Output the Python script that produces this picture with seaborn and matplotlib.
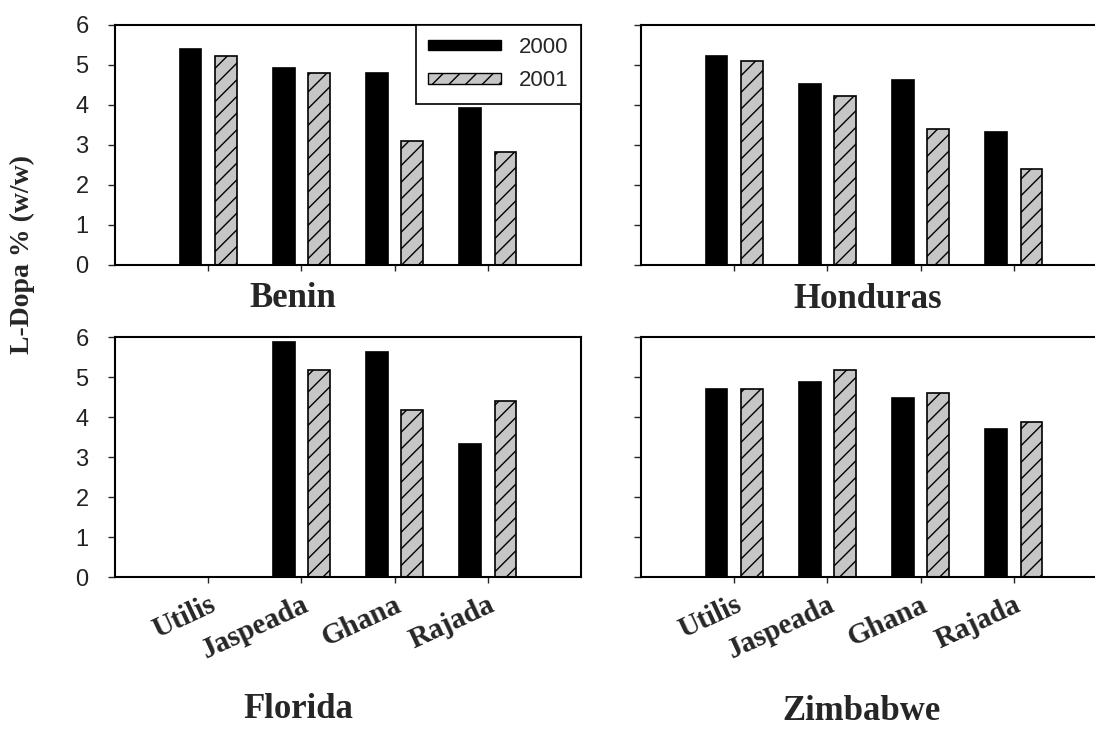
import matplotlib
matplotlib.use("Agg")
import matplotlib.pyplot as plt
import seaborn as sns
import pandas as pd
import numpy as np
from matplotlib.patches import Patch

# data (L-Dopa % w/w)
varieties = ["Utilis", "Jaspeada", "Ghana", "Rajada"]
years = ["2000", "2001"]
sites = ["Benin", "Honduras", "Florida", "Zimbabwe"]

benin_2000 = [5.41, 4.93, 4.80, 3.93]
benin_2001 = [5.22, 4.79, 3.09, 2.83]
honduras_2000 = [5.22, 4.53, 4.62, 3.32]
honduras_2001 = [5.09, 4.22, 3.40, 2.39]
florida_2000 = [np.nan, 5.88, 5.62, 3.32]
florida_2001 = [np.nan, 5.17, 4.18, 4.40]
zimbabwe_2000 = [4.70, 4.88, 4.48, 3.71]
zimbabwe_2001 = [4.70, 5.18, 4.61, 3.87]

site_values = {
    "Benin": (benin_2000, benin_2001),
    "Honduras": (honduras_2000, honduras_2001),
    "Florida": (florida_2000, florida_2001),
    "Zimbabwe": (zimbabwe_2000, zimbabwe_2001),
}

rows = []
for site, (v0, v1) in site_values.items():
    for var, a, b in zip(varieties, v0, v1):
        rows.append({"site": site, "variety": var, "year": "2000", "ldopa": a})
        rows.append({"site": site, "variety": var, "year": "2001", "ldopa": b})
df = pd.DataFrame(rows)

sns.set_theme(style="white")
SERIF = ["Liberation Serif", "DejaVu Serif"]
SANS = ["Liberation Sans", "DejaVu Sans"]
plt.rcParams["font.family"] = SANS
plt.rcParams["hatch.linewidth"] = 1.0

W, H = 1095, 733
fig = plt.figure(figsize=(W / 100, H / 100), dpi=100)
fig.patch.set_facecolor("white")

def px_axes(x0, y0, x1, y1):
    return fig.add_axes([x0 / W, 1 - y1 / H, (x1 - x0) / W, (y1 - y0) / H])

boxes = {
    "Benin": (115, 25, 581, 265),
    "Honduras": (641, 25, 1107, 265),
    "Florida": (115, 337, 581, 577),
    "Zimbabwe": (641, 337, 1107, 577),
}
palette = {"2000": "black", "2001": "#c6c6c6"}

axes = {}
for site in sites:
    ax = px_axes(*boxes[site])
    axes[site] = ax
    sub = df[df["site"] == site]
    sns.barplot(data=sub, x="variety", y="ldopa", hue="year",
                order=varieties, hue_order=years, palette=palette,
                width=0.76, gap=0.38, errorbar=None, edgecolor="black",
                linewidth=1.2, legend=False, ax=ax)
    for bar in ax.containers[1]:
        bar.set_hatch("//")
        bar.set_edgecolor("black")
    ax.set_xlim(-1, 4)
    ax.set_ylim(0, 6)
    ax.set_yticks(range(7))
    ax.set_xlabel("")
    ax.set_ylabel("")
    for sp in ax.spines.values():
        sp.set_visible(True)
        sp.set_color("black")
        sp.set_linewidth(1.5)
    ax.tick_params(axis="y", direction="out", length=5, width=1, pad=14,
                   labelsize=17, left=True)
    ax.tick_params(axis="x", direction="out", length=4, width=1, pad=6,
                   bottom=True)
    for t in ax.get_yticklabels():
        t.set_fontfamily(SANS)
        t.set_color("#222222")
    if site in ("Honduras", "Zimbabwe"):
        ax.set_yticklabels([])
    if site in ("Benin", "Honduras"):
        ax.set_xticklabels([])
    else:
        ax.set_xticks(range(len(varieties)))
        ax.set_xticklabels(varieties, rotation=25, ha="right",
                           rotation_mode="anchor", fontsize=21,
                           fontweight="bold", fontfamily=SERIF)

# legend in the Benin panel
handles = [Patch(facecolor="black", edgecolor="black", label="2000"),
           Patch(facecolor="#c6c6c6", edgecolor="black", hatch="//", label="2001")]
leg = axes["Benin"].legend(handles=handles, loc="upper right", bbox_to_anchor=(1, 1),
                           borderaxespad=0, fancybox=False, framealpha=1,
                           edgecolor="black", fontsize=16, handlelength=3.3,
                           handleheight=0.35, handletextpad=0.8, borderpad=0.55,
                           labelspacing=0.55)
leg.get_frame().set_linewidth(1.2)

# panel names
title_pos = {"Benin": (293, 298), "Honduras": (868, 300),
             "Florida": (298, 710), "Zimbabwe": (862, 712)}
for site, (x, y) in title_pos.items():
    fig.text(x / W, 1 - y / H, site, ha="center", va="center", fontsize=25,
             fontweight="bold", fontfamily=SERIF)

fig.text(22 / W, 1 - 255 / H, "L-Dopa % (w/w)", rotation=90, ha="center",
         va="center", fontsize=20, fontweight="bold", fontfamily=SERIF)

fig.savefig("out.png", dpi=100, facecolor="white")
